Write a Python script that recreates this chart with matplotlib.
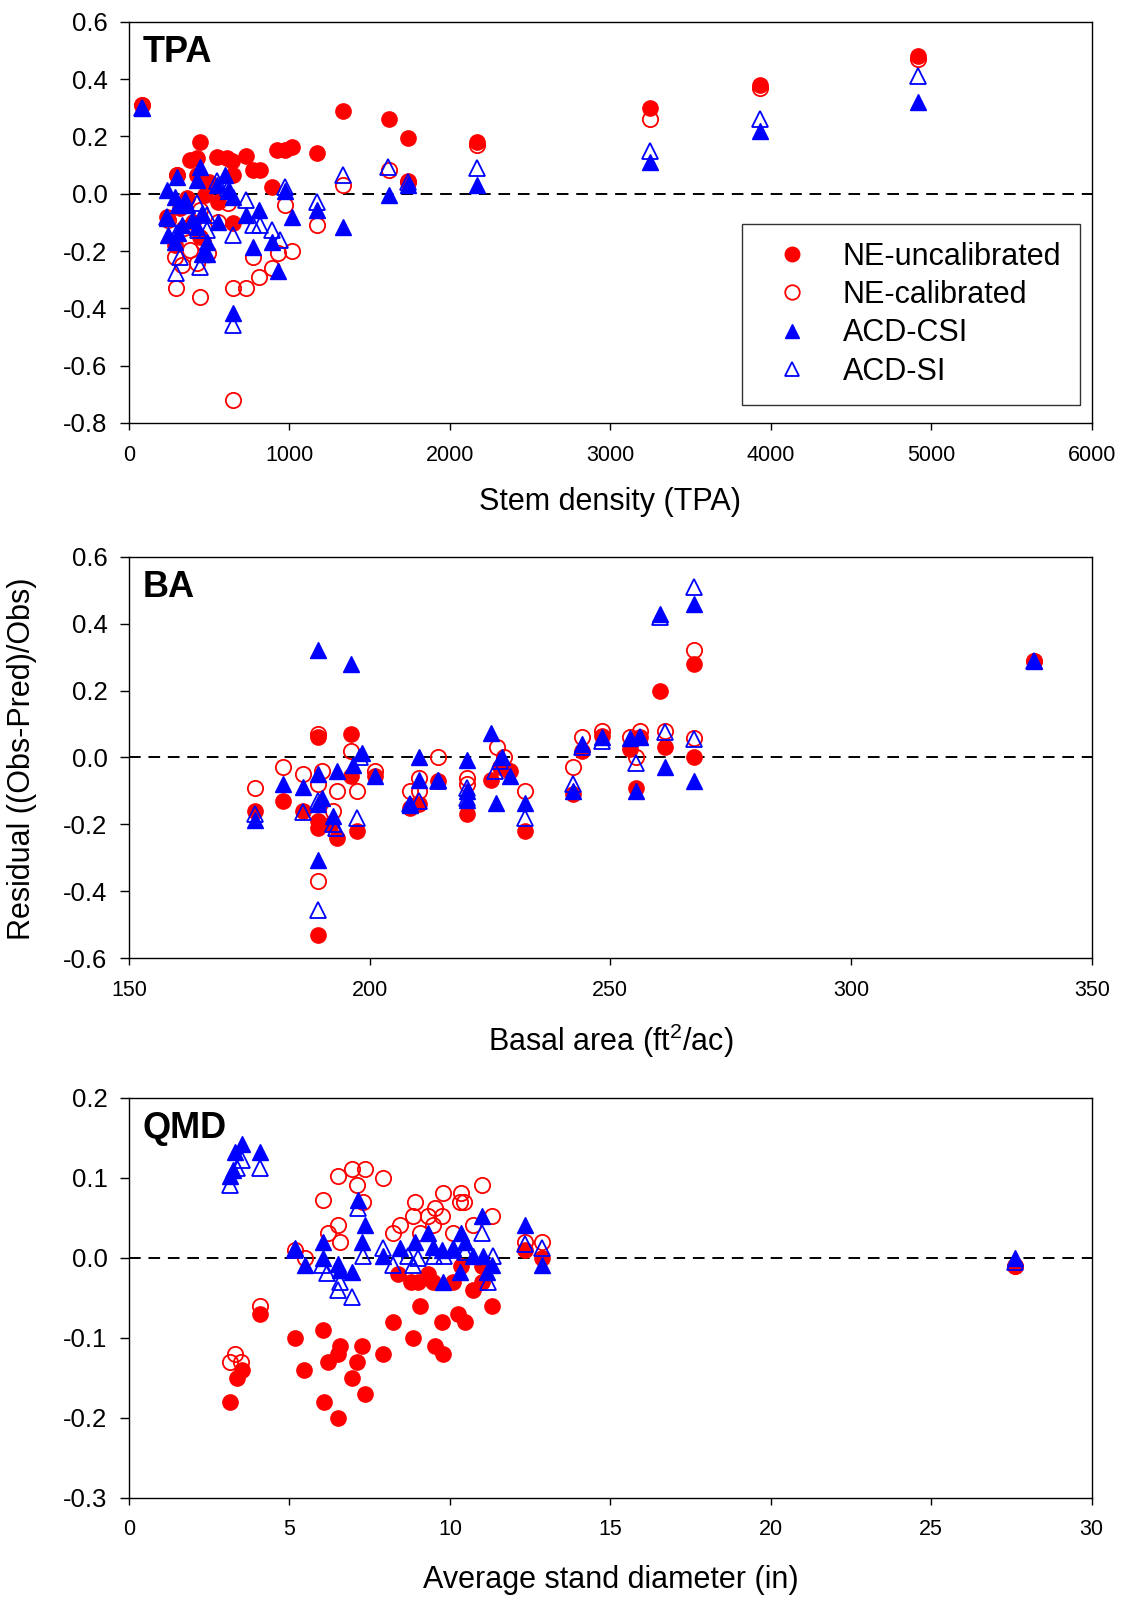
import matplotlib
matplotlib.use("Agg")
import matplotlib.pyplot as plt
from matplotlib.ticker import FormatStrFormatter, MultipleLocator

plt.rcParams["font.family"] = ["Liberation Sans", "DejaVu Sans"]
plt.rcParams["axes.unicode_minus"] = False
plt.rcParams["mathtext.fontset"] = "custom"
plt.rcParams["mathtext.rm"] = "Liberation Sans"

# ---- TPA panel ----
tpa_unc_x = [80, 235, 286, 297, 320, 359, 380, 400, 422, 422, 442, 442, 473, 500, 546, 556, 609, 640,
             650, 650, 729, 775, 816, 889, 920, 972, 1014, 1169, 1336, 1622, 1741, 1741, 2170, 3250, 3930, 4920]
tpa_unc_y = [0.31, -0.08, -0.18, 0.066, -0.05, -0.015, 0.118, -0.10, 0.124, 0.066, 0.18, -0.15, -0.004, 0.04,
             0.13, -0.027, 0.124, 0.115, 0.066, -0.103, 0.132, 0.083, 0.083, 0.025, 0.153, 0.153, 0.163, 0.142,
             0.29, 0.26, 0.194, 0.043, 0.18, 0.30, 0.38, 0.48]
tpa_cal_x = [80, 240, 287, 293, 297, 328, 340, 380, 422, 442, 442, 460, 495, 556, 618, 650, 650, 729,
             770, 812, 889, 930, 972, 1014, 1169, 1336, 1622, 1741, 2170, 3250, 3930, 4920]
tpa_cal_y = [0.31, -0.09, -0.22, -0.33, 0.066, -0.25, -0.12, -0.196, -0.24, -0.056, -0.36, -0.17, -0.205,
             -0.097, -0.033, -0.33, -0.72, -0.33, -0.22, -0.29, -0.26, -0.207, -0.039, -0.198, -0.11, 0.031,
             0.083, 0.04, 0.17, 0.26, 0.37, 0.47]
tpa_csi_x = [80, 235, 235, 245, 286, 286, 297, 306, 306, 328, 349, 359, 390, 422, 422, 442, 452, 452, 483,
             488, 546, 556, 598, 618, 650, 650, 729, 770, 812, 889, 930, 972, 1014, 1169, 1336, 1622, 1741,
             2170, 3250, 3930, 4920]
tpa_csi_y = [0.30, 0.014, -0.085, -0.143, -0.01, -0.17, 0.06, -0.04, -0.138, -0.11, -0.02, -0.04, -0.09,
             0.049, -0.115, 0.095, -0.068, -0.21, -0.17, -0.21, 0.031, -0.097, 0.066, 0.008, -0.01, -0.417,
             -0.074, -0.187, -0.056, -0.17, -0.27, 0.008, -0.08, -0.056, -0.115, -0.004, 0.03, 0.03, 0.11,
             0.22, 0.32]
tpa_si_x = [80, 235, 293, 297, 318, 422, 428, 442, 483, 488, 546, 618, 650, 650, 729, 775, 816, 889, 941,
            972, 1169, 1336, 1616, 1741, 2170, 3250, 3930, 4920]
tpa_si_y = [0.30, -0.08, -0.277, -0.137, -0.22, -0.033, -0.126, -0.254, -0.074, -0.126, 0.043, 0.02, -0.143,
            -0.458, -0.021, -0.108, -0.108, -0.126, -0.16, 0.025, -0.027, 0.066, 0.095, 0.04, 0.09, 0.15,
            0.26, 0.41]

# ---- BA panel ----
ba_unc_x = [176.2, 182, 186.2, 189.2, 189.2, 189.2, 189.2, 192, 193.2, 196.2, 196.2, 197.3, 201.1, 208.4,
            210.2, 214.2, 220.3, 225.3, 227, 229.1, 232.2, 242.2, 244.2, 248.2, 254.1, 255.3, 256.1, 260.3,
            261.3, 267.4, 267.4, 338]
ba_unc_y = [-0.16, -0.13, -0.16, 0.06, -0.19, -0.21, -0.53, -0.2, -0.24, 0.07, -0.055, -0.22, -0.055, -0.15,
            -0.14, -0.07, -0.17, -0.067, -0.03, -0.04, -0.22, -0.11, 0.02, 0.065, 0.025, -0.09, 0.06, 0.20,
            0.03, 0.28, 0.0, 0.29]
ba_cal_x = [176.2, 182, 186.2, 189.2, 189.2, 189.2, 190, 192.4, 193.2, 196.2, 197.3, 201.1, 208.4, 210.2,
            210.2, 214.2, 220.3, 220.3, 226.5, 228, 229, 232.2, 242.2, 244.2, 248.2, 254.1, 255.3, 256.1,
            261.3, 267.4, 267.4, 338]
ba_cal_y = [-0.09, -0.03, -0.05, 0.07, -0.08, -0.37, -0.04, -0.16, -0.10, 0.02, -0.10, -0.04, -0.10, -0.06,
            -0.10, 0.0, -0.06, -0.08, 0.03, 0.0, -0.04, -0.10, -0.03, 0.06, 0.08, 0.06, 0.0, 0.08, 0.08,
            0.32, 0.057, 0.29]
ba_csi_x = [176.2, 182, 186.2, 189.2, 189.2, 189.2, 189.2, 190, 192.4, 193.3, 196.2, 196.6, 198.3, 201.1,
            208.4, 210.2, 210.2, 214.2, 220.3, 220.3, 220.3, 225.3, 226.2, 227.4, 229.1, 232.2, 242.2, 244.2,
            248.2, 254.1, 255.3, 256.1, 260.3, 261.3, 267.4, 267.4, 338]
ba_csi_y = [-0.187, -0.079, -0.089, 0.32, -0.05, -0.14, -0.307, -0.12, -0.175, -0.04, 0.28, -0.023, 0.012,
            -0.054, -0.142, 0.002, -0.067, -0.067, -0.008, -0.10, -0.127, 0.074, -0.137, 0.002, -0.054,
            -0.137, -0.10, 0.04, 0.06, 0.057, -0.10, 0.06, 0.43, -0.03, 0.46, -0.07, 0.29]
ba_si_x = [176.2, 186.2, 189.2, 189.2, 192.4, 193, 197.3, 198, 208.4, 210.2, 214.2, 220.3, 220.3, 226.0,
           227, 232.2, 242.2, 244.2, 248.2, 255.3, 256.1, 260.3, 261.3, 267.4, 267.4, 338]
ba_si_y = [-0.17, -0.162, -0.13, -0.457, -0.20, -0.21, -0.18, 0.0, -0.14, -0.13, -0.07, -0.09, -0.12, -0.04,
           -0.01, -0.18, -0.08, 0.03, 0.05, -0.017, 0.06, 0.42, 0.075, 0.51, 0.055, 0.29]

# ---- QMD panel ----
qmd_unc_x = [3.15, 3.35, 3.51, 4.08, 5.17, 5.45, 6.05, 6.07, 6.19, 6.5, 6.52, 6.57, 6.94, 7.11, 7.25, 7.35,
             7.92, 8.23, 8.39, 8.8, 8.86, 9.0, 9.06, 9.32, 9.48, 9.53, 9.74, 9.79, 10.1, 10.26, 10.36, 10.47,
             10.72, 10.99, 10.99, 11.30, 12.34, 12.87, 27.6]
qmd_unc_y = [-0.18, -0.15, -0.14, -0.07, -0.10, -0.14, -0.09, -0.18, -0.13, -0.12, -0.20, -0.11, -0.15, -0.13,
             -0.11, -0.17, -0.12, -0.08, -0.02, -0.03, -0.10, -0.03, -0.06, -0.02, -0.03, -0.11, -0.08, -0.12,
             -0.03, -0.07, -0.01, -0.08, -0.04, -0.03, -0.01, -0.06, 0.01, 0.0, -0.01]
qmd_cal_x = [3.15, 3.3, 3.5, 4.08, 5.17, 5.48, 6.05, 6.21, 6.52, 6.52, 6.57, 6.94, 7.11, 7.28, 7.35, 7.90,
             8.23, 8.44, 8.86, 8.91, 9.06, 9.32, 9.48, 9.53, 9.74, 9.79, 10.1, 10.3, 10.36, 10.45, 10.72,
             10.99, 11.30, 12.34, 12.87, 27.6]
qmd_cal_y = [-0.13, -0.12, -0.13, -0.06, 0.01, 0.0, 0.073, 0.031, 0.102, 0.041, 0.02, 0.111, 0.091, 0.07,
             0.111, 0.10, 0.031, 0.041, 0.052, 0.07, 0.031, 0.052, 0.041, 0.062, 0.052, 0.081, 0.031, 0.07,
             0.081, 0.07, 0.041, 0.091, 0.052, 0.02, 0.02, -0.01]
qmd_csi_x = [3.15, 3.25, 3.30, 3.51, 4.08, 5.17, 5.48, 6.05, 6.05, 6.52, 6.57, 6.94, 7.14, 7.25, 7.35, 7.92,
             8.44, 8.91, 9.32, 9.48, 9.74, 9.79, 10.10, 10.31, 10.36, 10.47, 10.72, 10.99, 11.04, 11.14, 11.30,
             12.34, 12.86, 27.6]
qmd_csi_y = [0.102, 0.11, 0.133, 0.143, 0.133, 0.012, -0.009, 0.02, 0.0, -0.007, -0.015, -0.017, 0.073, 0.02,
             0.041, 0.002, 0.012, 0.02, 0.031, 0.014, 0.01, -0.03, 0.012, -0.017, 0.031, 0.02, 0.002, 0.052,
             0.002, -0.017, -0.009, 0.041, -0.009, 0.0]
qmd_si_x = [3.15, 3.35, 3.51, 4.08, 5.17, 6.0, 6.16, 6.52, 6.57, 6.94, 7.14, 7.30, 7.92, 8.23, 8.7, 8.86, 9.0,
            9.5, 9.8, 10.1, 10.47, 10.99, 11.19, 11.35, 12.34, 12.87, 27.6]
qmd_si_y = [0.091, 0.112, 0.122, 0.112, 0.01, -0.009, -0.019, -0.04, -0.03, -0.049, 0.062, 0.002, 0.012,
            -0.009, 0.002, -0.009, 0.0, 0.003, 0.002, 0.01, 0.008, 0.031, -0.03, 0.002, 0.018, 0.012, -0.005]

RED = "#ff0000"
BLUE = "#0000ff"
MS = 11
LABEL_FS = 22


def draw_panel(ax, unc, cal, csi, si, tag):
    ax.axhline(0, color="black", lw=1.4, ls=(0, (6, 4)), zorder=1)
    ax.plot(*cal, ls="none", marker="o", ms=MS, mfc="none", mec=RED, mew=1.3, zorder=2,
            label="NE-calibrated")
    ax.plot(*unc, ls="none", marker="o", ms=MS, mfc=RED, mec=RED, zorder=3, label="NE-uncalibrated")
    ax.plot(*si, ls="none", marker="^", ms=MS, mfc="none", mec=BLUE, mew=1.3, zorder=4, label="ACD-SI")
    ax.plot(*csi, ls="none", marker="^", ms=MS, mfc=BLUE, mec=BLUE, zorder=5, label="ACD-CSI")
    ax.text(0.0145, 0.968, tag, transform=ax.transAxes, fontsize=26, fontweight="bold", va="top", ha="left")
    ax.tick_params(axis="x", direction="out", length=5, width=1, labelsize=15.5, pad=10.5)
    ax.tick_params(axis="y", direction="out", length=6.5, width=1, labelsize=18.5, pad=9)
    ax.tick_params(top=False, right=False)
    ax.yaxis.set_major_formatter(FormatStrFormatter("%.1f"))
    ax.xaxis.set_major_formatter(FormatStrFormatter("%d"))
    for s in ax.spines.values():
        s.set_linewidth(1.0)


fig = plt.figure(figsize=(11.22, 15.98), dpi=100)
L, W = 0.115, 0.858
ax1 = fig.add_axes([L, 0.7353, W, 0.251])
ax2 = fig.add_axes([L, 0.4005, W, 0.251])
ax3 = fig.add_axes([L, 0.0626, W, 0.2503])

draw_panel(ax1, (tpa_unc_x, tpa_unc_y), (tpa_cal_x, tpa_cal_y), (tpa_csi_x, tpa_csi_y), (tpa_si_x, tpa_si_y), "TPA")
ax1.set_xlim(0, 6000)
ax1.set_ylim(-0.8, 0.6)
ax1.xaxis.set_major_locator(MultipleLocator(1000))
ax1.yaxis.set_major_locator(MultipleLocator(0.2))
ax1.set_xlabel("Stem density (TPA)", fontsize=LABEL_FS)
ax1.xaxis.set_label_coords(0.5, -0.197)
ax1.xaxis.label.set_va("center")

h, lab = ax1.get_legend_handles_labels()
order = [1, 0, 3, 2]
leg = ax1.legend([h[i] for i in order], [lab[i] for i in order], loc="lower right",
                 bbox_to_anchor=(0.9875, 0.045), fontsize=22, frameon=True, fancybox=False,
                 edgecolor="black", borderpad=0.6, labelspacing=0.27, handletextpad=0.6,
                 handlelength=2.1, markerscale=0.95, borderaxespad=0)
leg.get_frame().set_linewidth(1.0)

draw_panel(ax2, (ba_unc_x, ba_unc_y), (ba_cal_x, ba_cal_y), (ba_csi_x, ba_csi_y), (ba_si_x, ba_si_y), "BA")
ax2.set_xlim(150, 350)
ax2.set_ylim(-0.6, 0.6)
ax2.xaxis.set_major_locator(MultipleLocator(50))
ax2.yaxis.set_major_locator(MultipleLocator(0.2))
ax2.set_xlabel(r"Basal area (ft$^{\mathrm{2}}$/ac)", fontsize=LABEL_FS)
ax2.xaxis.set_label_coords(0.5, -0.207)
ax2.xaxis.label.set_va("center")
ax2.set_ylabel("Residual ((Obs-Pred)/Obs)", fontsize=LABEL_FS)
ax2.yaxis.set_label_coords(-0.111, 0.496)
ax2.yaxis.label.set_va("center")

draw_panel(ax3, (qmd_unc_x, qmd_unc_y), (qmd_cal_x, qmd_cal_y), (qmd_csi_x, qmd_csi_y), (qmd_si_x, qmd_si_y), "QMD")
ax3.set_xlim(0, 30)
ax3.set_ylim(-0.3, 0.2)
ax3.xaxis.set_major_locator(MultipleLocator(5))
ax3.yaxis.set_major_locator(MultipleLocator(0.1))
ax3.set_xlabel("Average stand diameter (in)", fontsize=LABEL_FS)
ax3.xaxis.set_label_coords(0.5, -0.205)
ax3.xaxis.label.set_va("center")

fig.savefig("out.png", dpi=100)
